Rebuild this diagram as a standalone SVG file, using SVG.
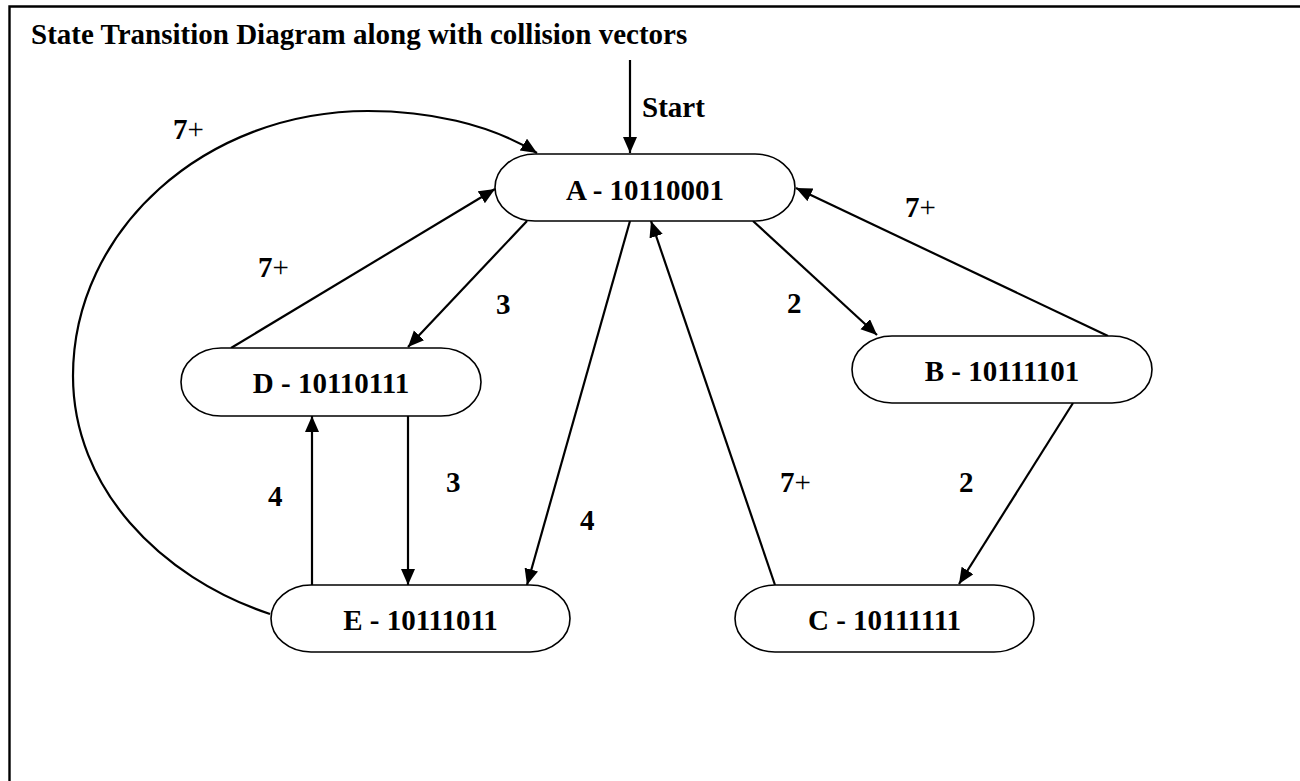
<svg xmlns="http://www.w3.org/2000/svg" width="1300" height="781" viewBox="0 0 1300 781">
  <style>
    text { font-family: "Liberation Serif", "Times New Roman", serif; font-weight: bold; fill: #000; }
    .title { font-size: 29px; }
    .node-label { font-size: 29px; text-anchor: middle; }
    .edge-label { font-size: 29px; }
    .plus { font-weight: normal; }
    .node rect { fill: #fff; stroke: #000; stroke-width: 1.6; }
    .edge { fill: none; stroke: #000; stroke-width: 2.2; marker-end: url(#arrow); }
    .frame { fill: none; stroke: #000; stroke-width: 2.4; }
  </style>
  <defs>
    <marker id="arrow" markerUnits="userSpaceOnUse" markerWidth="17" markerHeight="15" refX="16" refY="7" orient="auto">
      <path d="M0,0 L16,7 L0,14 Z" fill="#000"/>
    </marker>
  </defs>

  <rect width="1300" height="781" fill="#fff"/>

  <!-- open frame: top and left rules only -->
  <path class="frame" d="M9.5,781 L9.5,6.5 L1300,6.5"/>

  <text class="title" x="31" y="44">State Transition Diagram along with collision vectors</text>

  <!-- transitions -->
  <g id="connectors">
    <path class="edge" d="M630,60 L630,153"/>
    <path class="edge" d="M270,614 C159,577 73,487 73,376 C73,230 205,111 368,111 C427,111 488,123 537,153"/>
    <path class="edge" d="M231,348 L495,189"/>
    <path class="edge" d="M527,221 L408,347"/>
    <path class="edge" d="M630,221 L527,585"/>
    <path class="edge" d="M312,585 L312,416"/>
    <path class="edge" d="M408,416 L408,585"/>
    <path class="edge" d="M753,221 L877,335"/>
    <path class="edge" d="M1108,336 L796,188"/>
    <path class="edge" d="M1073,403 L959,584"/>
    <path class="edge" d="M775,585 L651,221"/>

    <text class="edge-label" x="642" y="117">Start</text>
    <text class="edge-label" x="173" y="139">7<tspan class="plus">+</tspan></text>
    <text class="edge-label" x="258" y="277">7<tspan class="plus">+</tspan></text>
    <text class="edge-label" x="496" y="314">3</text>
    <text class="edge-label" x="787" y="313">2</text>
    <text class="edge-label" x="905" y="217">7<tspan class="plus">+</tspan></text>
    <text class="edge-label" x="268" y="506">4</text>
    <text class="edge-label" x="446" y="492">3</text>
    <text class="edge-label" x="580" y="530">4</text>
    <text class="edge-label" x="780" y="492">7<tspan class="plus">+</tspan></text>
    <text class="edge-label" x="959" y="492">2</text>
  </g>

  <!-- states -->
  <g id="node-A" class="node">
    <rect x="495" y="154" width="300" height="67" rx="40" ry="33.5"/>
    <text class="node-label" x="645" y="200">A - 10110001</text>
  </g>
  <g id="node-B" class="node">
    <rect x="852" y="336" width="300" height="67" rx="40" ry="33.5"/>
    <text class="node-label" x="1002" y="381">B - 10111101</text>
  </g>
  <g id="node-C" class="node">
    <rect x="735" y="585" width="299" height="67" rx="40" ry="33.5"/>
    <text class="node-label" x="884.5" y="630">C - 10111111</text>
  </g>
  <g id="node-D" class="node">
    <rect x="181" y="348" width="300" height="68" rx="40" ry="34"/>
    <text class="node-label" x="331" y="393">D - 10110111</text>
  </g>
  <g id="node-E" class="node">
    <rect x="271" y="585" width="299" height="67" rx="40" ry="33.5"/>
    <text class="node-label" x="420.5" y="630">E - 10111011</text>
  </g>
</svg>
